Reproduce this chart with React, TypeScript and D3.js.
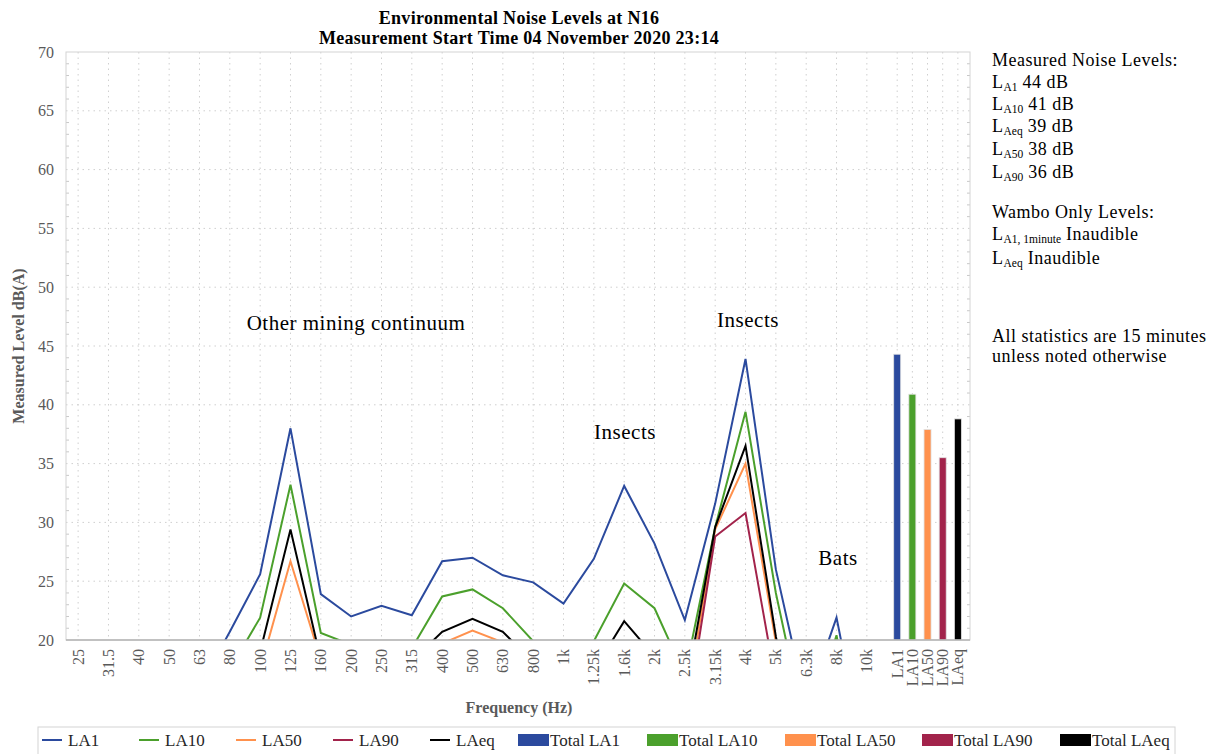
import React, { useEffect, useRef } from "react";
import * as d3 from "d3";

const freqLabels = ["25", "31.5", "40", "50", "63", "80", "100", "125", "160", "200", "250", "315", "400", "500", "630", "800", "1k", "1.25k", "1.6k", "2k", "2.5k", "3.15k", "4k", "5k", "6.3k", "8k", "10k"];
const totalLabels = ["LA1", "LA10", "LA50", "LA90", "LAeq"];

// spectrum values, dB(A) (anything under 20 is cut off by the axis)
const la1 = [12, 13, 14, 15, 16, 20.7, 25.6, 38.0, 23.9, 22.0, 22.9, 22.1, 26.7, 27.0, 25.5, 24.9, 23.1, 26.9, 33.1, 28.2, 21.7, 31.6, 43.9, 26.0, 14.5, 21.9, 9.0];
const la10 = [9, 10, 11, 12, 13, 17.5, 21.9, 33.2, 20.6, 19.6, 19.3, 19.3, 23.7, 24.3, 22.7, 19.9, 18.0, 19.9, 24.8, 22.7, 17.0, 29.6, 39.4, 24.0, 12.0, 20.4, 6.0];
const la50 = [3, 4, 5, 6, 7, 12, 17.5, 26.7, 18.3, 14, 14, 16, 19.7, 20.8, 19.8, 16, 15, 15.5, 19.0, 16, 13.8, 29.4, 35.0, 19.8, 6, 12, 2];
const la90 = [2, 3, 4, 5, 6, 10, 14, 17, 13, 12, 12, 13, 16, 17, 16, 14, 13, 14, 16, 14, 12.4, 28.8, 30.8, 16.3, 5, 10, 1];
const laeq = [5, 6, 7, 8, 9, 14, 19.0, 29.4, 18.3, 15, 15, 18.2, 20.7, 21.8, 20.7, 18.1, 17.0, 17.4, 21.6, 18.6, 15.2, 29.6, 36.5, 20.3, 8, 15, 4];
const totals = [44.3, 40.9, 37.9, 35.5, 38.8];

const yTicks = [20, 25, 30, 35, 40, 45, 50, 55, 60, 65, 70];

const colors = ["#2b4a9e", "#4ba02c", "#ff914d", "#a2234b", "#000000"];
const seriesNames = ["LA1", "LA10", "LA50", "LA90", "LAeq"];
const seriesValues = [la1, la10, la50, la90, laeq];

const FONT = "'Liberation Serif', 'Times New Roman', serif";

const NoiseChart = () => {
  const svgRef = useRef<SVGSVGElement>(null);

  useEffect(() => {
    const svg = d3.select(svgRef.current);
    svg.selectAll("*").remove();

    const left = 66, right = 970, top = 52, bottom = 640;
    const nf = freqLabels.length;

    // frequency bands one step apart, the totals half a step apart
    const slots = [...freqLabels, ...totalLabels];
    const slotIndex = (i: number) => (i < nf ? i : nf + (i - nf) * 0.5);
    const x = d3.scaleLinear().domain([-0.4, nf + 2.4]).range([left, right]);
    const y = d3.scaleLinear().domain([20, 70]).range([bottom, top]);

    svg.append("rect").attr("width", 1214).attr("height", 754).attr("fill", "#fff");

    // grid
    const grid = svg.append("g").attr("stroke", "#cfcfcf").attr("stroke-dasharray", "1.5,4");
    grid.selectAll("line.h")
      .data(yTicks.slice(1, -1))
      .join("line")
      .attr("class", "h")
      .attr("x1", left).attr("x2", right)
      .attr("y1", d => y(d)).attr("y2", d => y(d));
    grid.selectAll("line.v")
      .data(slots)
      .join("line")
      .attr("class", "v")
      .attr("x1", (_, i) => x(slotIndex(i))).attr("x2", (_, i) => x(slotIndex(i)))
      .attr("y1", top).attr("y2", bottom);

    // minor ticks on both sides
    const minor = d3.range(21, 70).filter(v => v % 5 !== 0);
    const mt = svg.append("g").attr("stroke", "#c8c8c8");
    mt.selectAll("line.l").data(minor).join("line").attr("class", "l")
      .attr("x1", left).attr("x2", left + 3).attr("y1", d => y(d)).attr("y2", d => y(d));
    mt.selectAll("line.r").data(minor).join("line").attr("class", "r")
      .attr("x1", right - 3).attr("x2", right).attr("y1", d => y(d)).attr("y2", d => y(d));

    svg.append("rect")
      .attr("x", left).attr("y", top)
      .attr("width", right - left).attr("height", bottom - top)
      .attr("fill", "none").attr("stroke", "#d4d4d4");

    svg.append("clipPath").attr("id", "plotclip")
      .append("rect")
      .attr("x", left).attr("y", top)
      .attr("width", right - left).attr("height", bottom - top);

    const plot = svg.append("g").attr("clip-path", "url(#plotclip)");

    // total bars
    plot.selectAll("rect.bar")
      .data(totals)
      .join("rect")
      .attr("class", "bar")
      .attr("x", (_, j) => x(nf + j * 0.5) - 3.5)
      .attr("y", d => y(d))
      .attr("width", 7)
      .attr("height", d => y(20) - y(d))
      .attr("fill", (_, j) => colors[j])
      .attr("stroke", "#e2e2e2")
      .attr("stroke-width", 0.8);

    // spectrum lines
    const line = d3.line<number>().x((_, i) => x(i)).y(d => y(d));
    plot.selectAll("path.series")
      .data(seriesValues)
      .join("path")
      .attr("class", "series")
      .attr("d", d => line(d))
      .attr("fill", "none")
      .attr("stroke", (_, i) => colors[i])
      .attr("stroke-width", 2)
      .attr("stroke-linejoin", "miter");

    // bottom axis line
    svg.append("line")
      .attr("x1", left).attr("x2", right)
      .attr("y1", bottom).attr("y2", bottom)
      .attr("stroke", "#b3b3b3").attr("stroke-width", 1.5);

    // y tick labels
    svg.selectAll("text.ytick")
      .data(yTicks)
      .join("text")
      .attr("class", "ytick")
      .attr("x", 54)
      .attr("y", d => y(d))
      .attr("dy", "0.35em")
      .attr("text-anchor", "end")
      .attr("font-family", FONT)
      .attr("font-size", 16)
      .attr("fill", "#595959")
      .text(d => d);

    // x tick labels
    svg.selectAll("text.xtick")
      .data(slots)
      .join("text")
      .attr("class", "xtick")
      .attr("transform", (_, i) => `translate(${x(slotIndex(i))},649) rotate(-90)`)
      .attr("dy", "0.35em")
      .attr("text-anchor", "end")
      .attr("font-family", FONT)
      .attr("font-size", 16)
      .attr("fill", "#595959")
      .text(d => d);

    svg.append("text")
      .attr("transform", "translate(18,346) rotate(-90)")
      .attr("dy", "0.35em")
      .attr("text-anchor", "middle")
      .attr("font-family", FONT)
      .attr("font-size", 16)
      .attr("font-weight", "bold")
      .attr("fill", "#595959")
      .text("Measured Level dB(A)");

    svg.append("text")
      .attr("x", 519).attr("y", 707)
      .attr("dy", "0.35em")
      .attr("text-anchor", "middle")
      .attr("font-family", FONT)
      .attr("font-size", 16)
      .attr("font-weight", "bold")
      .attr("fill", "#595959")
      .text("Frequency (Hz)");

    // title
    const title = ["Environmental Noise Levels at N16", "Measurement Start Time 04 November 2020 23:14"];
    svg.selectAll("text.title")
      .data(title)
      .join("text")
      .attr("class", "title")
      .attr("x", 519)
      .attr("y", (_, i) => 18 + i * 20)
      .attr("dy", "0.35em")
      .attr("text-anchor", "middle")
      .attr("font-family", FONT)
      .attr("font-size", 18)
      .attr("letter-spacing", 0.3)
      .attr("font-weight", "bold")
      .attr("fill", "#000")
      .text(d => d);

    // annotations
    const notes = [
      { t: "Other mining continuum", x: 356, y: 323 },
      { t: "Insects", x: 748, y: 320 },
      { t: "Insects", x: 625, y: 432 },
      { t: "Bats", x: 838, y: 558 },
    ];
    svg.selectAll("text.note")
      .data(notes)
      .join("text")
      .attr("class", "note")
      .attr("x", d => d.x).attr("y", d => d.y)
      .attr("dy", "0.35em")
      .attr("text-anchor", "middle")
      .attr("font-family", FONT)
      .attr("font-size", 21)
      .attr("letter-spacing", 0.5)
      .attr("fill", "#000")
      .text(d => d.t);

    // side panel
    const panel = [
      { y: 60, parts: [["", "Measured Noise Levels:"]] },
      { y: 82, parts: [["", "L"], ["sub", "A1"], ["", " 44 dB"]] },
      { y: 104, parts: [["", "L"], ["sub", "A10"], ["", " 41 dB"]] },
      { y: 126, parts: [["", "L"], ["sub", "Aeq"], ["", " 39 dB"]] },
      { y: 149, parts: [["", "L"], ["sub", "A50"], ["", " 38 dB"]] },
      { y: 172, parts: [["", "L"], ["sub", "A90"], ["", " 36 dB"]] },
      { y: 212, parts: [["", "Wambo Only Levels:"]] },
      { y: 234, parts: [["", "L"], ["sub", "A1, 1minute"], ["", " Inaudible"]] },
      { y: 258, parts: [["", "L"], ["sub", "Aeq"], ["", " Inaudible"]] },
      { y: 336, parts: [["", "All statistics are 15 minutes"]] },
      { y: 356, parts: [["", "unless noted otherwise"]] },
    ];
    panel.forEach(row => {
      const t = svg.append("text")
        .attr("x", 992).attr("y", row.y)
        .attr("dy", "0.35em")
        .attr("font-family", FONT)
        .attr("font-size", 18)
        .attr("letter-spacing", 0.5)
        .attr("fill", "#000");
      let sub = false;
      row.parts.forEach(([kind, s]) => {
        const ts = t.append("tspan").text(s);
        if (kind === "sub") {
          ts.attr("font-size", 11.5).attr("letter-spacing", 0).attr("dy", 3);
          sub = true;
        } else if (sub) {
          ts.attr("dy", -3);
          sub = false;
        }
      });
    });

    // legend
    const legend = svg.append("g");
    legend.append("rect")
      .attr("x", 38).attr("y", 727)
      .attr("width", 1137).attr("height", 40)
      .attr("fill", "#fff").attr("stroke", "#d4d4d4");
    const lineItems = seriesNames.map((n, i) => ({ n, c: colors[i], x: 42 + i * 97 }));
    legend.selectAll("line.li")
      .data(lineItems)
      .join("line")
      .attr("class", "li")
      .attr("x1", d => d.x).attr("x2", d => d.x + 20)
      .attr("y1", 740).attr("y2", 740)
      .attr("stroke", d => d.c).attr("stroke-width", 2);
    legend.selectAll("text.lt")
      .data(lineItems)
      .join("text")
      .attr("class", "lt")
      .attr("x", d => d.x + 26).attr("y", 740)
      .attr("dy", "0.35em")
      .attr("font-family", FONT).attr("font-size", 17)
      .attr("fill", "#262626")
      .text(d => d.n);
    const barX = [518, 647, 785, 922, 1060];
    const barItems = seriesNames.map((n, i) => ({ n: "Total " + n, c: colors[i], x: barX[i] }));
    legend.selectAll("rect.bi")
      .data(barItems)
      .join("rect")
      .attr("class", "bi")
      .attr("x", d => d.x).attr("y", 734)
      .attr("width", 31).attr("height", 12)
      .attr("fill", d => d.c);
    legend.selectAll("text.bt")
      .data(barItems)
      .join("text")
      .attr("class", "bt")
      .attr("x", d => d.x + 32).attr("y", 740)
      .attr("dy", "0.35em")
      .attr("font-family", FONT).attr("font-size", 17)
      .attr("fill", "#262626")
      .text(d => d.n);
  }, []);

  return (
    <svg
      ref={svgRef}
      width={1214}
      height={754}
      style={{ position: "absolute", left: 0, top: 0, display: "block" }}
    />
  );
};

export default function App() {
  return <NoiseChart />;
}
